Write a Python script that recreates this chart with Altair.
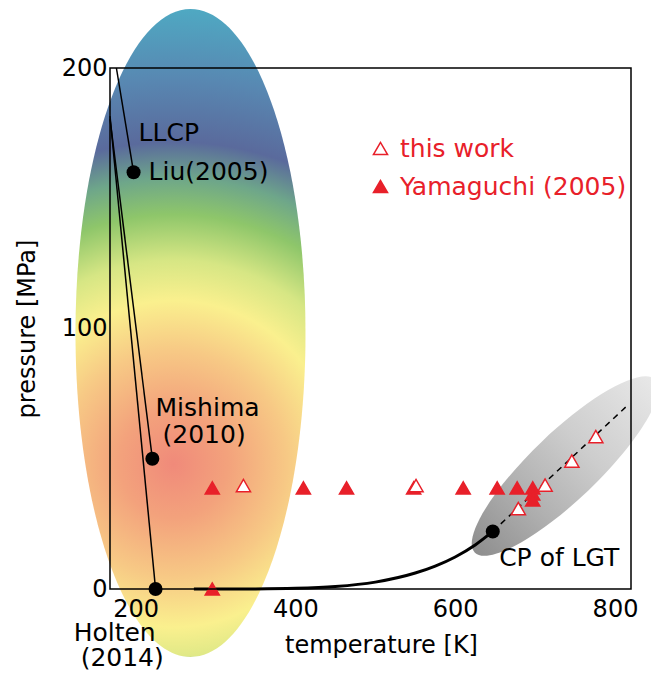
import altair as alt
import pandas as pd

RED = "#e8202a"
FONT = "DejaVu Sans"

# ---- data ----
llcp_name = ["Liu(2005)", "Mishima(2010)", "Holten(2014)"]
llcp_T = [197.5, 221, 225]
llcp_P = [160, 50, 0]
guide_T0 = [176, 168, 168]
guide_P0 = [200, 180.5, 181.5]

cp_T = [647]
cp_P = [22.1]

vap_T = [273, 300, 350, 400, 450, 500, 550, 575, 600, 625, 647]
vap_P = [0.0006, 0.0035, 0.042, 0.25, 0.93, 2.64, 6.12, 8.8, 12.3, 16.9, 22.1]

widom_T = [647, 816]
widom_P = [22.1, 70.6]

this_T = [335, 551, 679, 712.5, 746, 776]
this_P = [39.7, 39.7, 30.9, 39.9, 49.1, 58.5]

yama_T = [296, 296, 410, 464, 548, 610, 652.5, 677.5, 697, 697, 697]
yama_P = [0, 38.8, 38.8, 38.8, 38.8, 38.8, 38.8, 38.8, 38.8, 36.5, 34.2]

ann_text = ["LLCP", "Liu(2005)", "Mishima", "(2010)", "Holten", "(2014)", "CP of LGT"]
ann_T = [203.75, 216.25, 225, 233.75, 122.5, 131.25, 655]
ann_P = [175.0, 160.1, 69.5, 59.1, -16.9, -26.5, 11.9]

x_ticks = [200, 400, 600, 800]
y_ticks = [0, 100, 200]
x_dom = [168, 820]
y_dom = [0, 200]

# decorative regions (centres in data units)
big_center = {"T": [268.75], "P": [98.3]}
gray_center = {"T": [737.5], "P": [47.2]}

xs = alt.Scale(domain=x_dom, nice=False, zero=False)
ys = alt.Scale(domain=y_dom, nice=False, zero=False)

X = alt.X("T:Q", scale=xs, axis=alt.Axis(
    values=x_ticks, title="temperature [K]", grid=False, ticks=False, domain=False,
    labelFontSize=24, labelFont=FONT, labelColor="black", labelPadding=8, labelFlush=False,
    titleFontSize=24, titleFont=FONT, titleFontWeight="normal", titleColor="black",
    titlePadding=12, titleX=271, zindex=1))
Y = alt.Y("P:Q", scale=ys, axis=alt.Axis(
    values=y_ticks, title="pressure [MPa]", grid=False, ticks=False, domain=False,
    labelFontSize=24, labelFont=FONT, labelColor="black", labelPadding=3, labelFlush=False,
    titleFontSize=24, titleFont=FONT, titleFontWeight="normal", titleColor="black",
    titlePadding=22, zindex=1))

radial = alt.RadialGradient(
    gradient="radial",
    x1=0.474, y1=0.702, r1=0, x2=0.474, y2=0.702, r2=0.70,
    stops=[
        alt.GradientStop(offset=0.0, color="#f08a7a"),
        alt.GradientStop(offset=0.12, color="#f3a27c"),
        alt.GradientStop(offset=0.25, color="#f7c985"),
        alt.GradientStop(offset=0.36, color="#faf08e"),
        alt.GradientStop(offset=0.45, color="#d6e684"),
        alt.GradientStop(offset=0.55, color="#8ec66a"),
        alt.GradientStop(offset=0.63, color="#6ea68a"),
        alt.GradientStop(offset=0.71, color="#5a6a9c"),
        alt.GradientStop(offset=0.85, color="#5888b2"),
        alt.GradientStop(offset=1.0, color="#4fa8c2"),
    ])

big = alt.Chart(pd.DataFrame(big_center)).mark_point(
    shape="M 0 -1 A 0.355 1 0 1 1 0 1 A 0.355 1 0 1 1 0 -1 Z",
    size=648 ** 2, filled=True, opacity=1, strokeWidth=0, fill=radial
).encode(x=X, y=Y)

linear = alt.LinearGradient(
    gradient="linear", x1=0, y1=0, x2=1, y2=0,
    stops=[
        alt.GradientStop(offset=0.0, color="#8e8e8e"),
        alt.GradientStop(offset=0.3, color="#b0b0b0"),
        alt.GradientStop(offset=0.6, color="#cdcdcd"),
        alt.GradientStop(offset=1.0, color="#e8e8e8"),
    ])
gray = alt.Chart(pd.DataFrame(gray_center)).mark_point(
    shape="M -1 0 A 1 0.27 0 1 1 1 0 A 1 0.27 0 1 1 -1 0 Z",
    size=250 ** 2, filled=True, opacity=1, strokeWidth=0, angle=316.3, fill=linear
).encode(x="T:Q", y="P:Q")

guides = alt.Chart(pd.DataFrame({"T": guide_T0, "P": guide_P0, "T2": llcp_T, "P2": llcp_P})).mark_rule(
    color="black", strokeWidth=1.5
).encode(x="T:Q", y="P:Q", x2="T2:Q", y2="P2:Q")

vap = alt.Chart(pd.DataFrame({"T": vap_T, "P": vap_P})).mark_line(
    color="black", strokeWidth=3, interpolate="monotone"
).encode(x="T:Q", y="P:Q")

widom = alt.Chart(pd.DataFrame({"T": widom_T, "P": widom_P})).mark_line(
    color="black", strokeWidth=1.5, strokeDash=[6, 5]
).encode(x="T:Q", y="P:Q")

series = ["Yamaguchi (2005)"] * len(yama_T) + ["this work"] * len(this_T)
pts_df = pd.DataFrame({"T": yama_T + this_T, "P": yama_P + this_P, "series": series})
dom = ["this work", "Yamaguchi (2005)"]
pts = alt.Chart(pts_df).mark_point(
    filled=True, opacity=1, strokeWidth=1.5, size=200
).encode(
    x="T:Q", y="P:Q",
    shape=alt.Shape("series:N", scale=alt.Scale(domain=dom, range=["triangle-up", "triangle-up"]), title=None),
    fill=alt.Fill("series:N", scale=alt.Scale(domain=dom, range=["white", RED]), title=None),
    stroke=alt.Stroke("series:N", scale=alt.Scale(domain=dom, range=[RED, RED]), title=None),
)

dots = alt.Chart(pd.DataFrame({"T": llcp_T + cp_T, "P": llcp_P + cp_P})).mark_point(
    filled=True, opacity=1, color="black", size=196, shape="circle"
).encode(x="T:Q", y="P:Q")

labels = alt.Chart(pd.DataFrame({"T": ann_T, "P": ann_P, "t": ann_text})).mark_text(
    font=FONT, fontSize=25, align="left", baseline="middle", color="black"
).encode(x="T:Q", y="P:Q", text="t:N")

frame = alt.Chart(pd.DataFrame({"a": [0]})).mark_rect(
    fill="transparent", stroke="black", strokeWidth=1.5
).encode(x=alt.datum(x_dom[0]), x2=alt.datum(x_dom[1]), y=alt.datum(y_dom[0]), y2=alt.datum(y_dom[1]))

chart = alt.layer(big, gray, guides, vap, widom, pts, dots, labels, frame).properties(
    width=521, height=521,
    autosize=alt.AutoSizeParams(type="none"),
    padding={"left": 102, "top": 60, "right": 20, "bottom": 84},
).configure_view(stroke=None).configure_legend(
    orient="none", legendX=258, legendY=68, padding=0,
    labelFontSize=25, labelFont=FONT, labelColor=RED, labelOffset=7, labelLimit=400,
    symbolSize=200, symbolStrokeWidth=1.5,
    rowPadding=12, titleFontSize=0,
)

chart.save("out.html", embed_options={"renderer": "svg", "actions": False})
